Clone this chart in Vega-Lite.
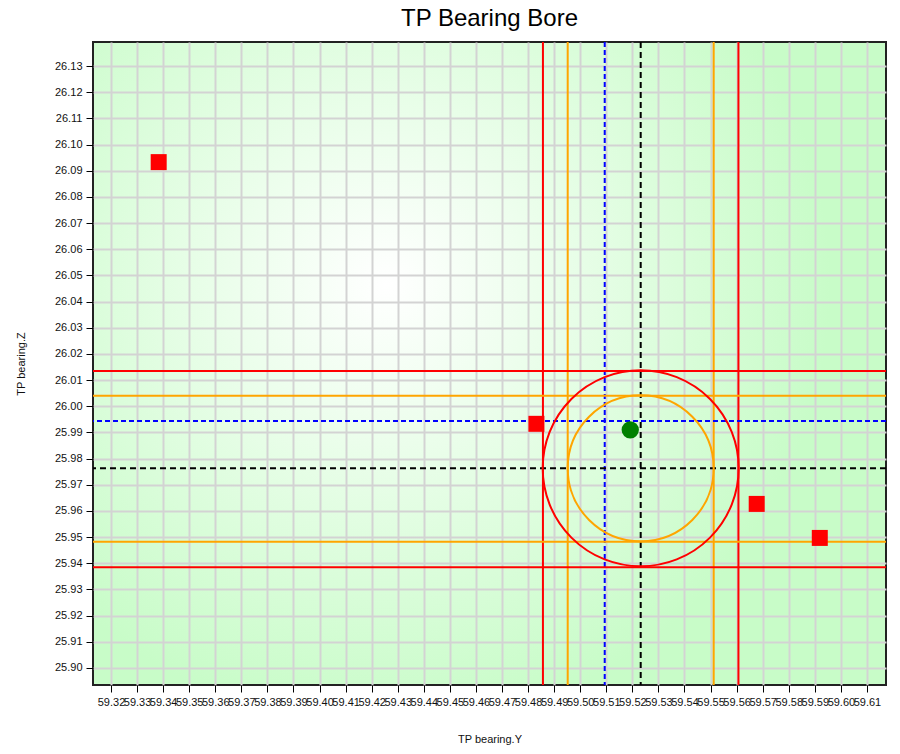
{
  "$schema": "https://vega.github.io/schema/vega-lite/v6.json",
  "width": 793,
  "height": 643,
  "autosize": {"type": "none"},
  "padding": {"left": 93, "top": 42, "right": 14, "bottom": 69},
  "background": "white",
  "title": {"text": "TP Bearing Bore", "fontSize": 24, "font": "Liberation Sans", "fontWeight": "normal", "color": "#000", "offset": 10, "anchor": "middle", "frame": "group"},
  "datasets": {
    "vlines": [
      {"Y": 59.4857, "kind": "outer"},
      {"Y": 59.5607, "kind": "outer"},
      {"Y": 59.4952, "kind": "inner"},
      {"Y": 59.5512, "kind": "inner"},
      {"Y": 59.5094, "kind": "mean"},
      {"Y": 59.5232, "kind": "nominal"}
    ],
    "hlines": [
      {"Z": 26.0135, "kind": "outer"},
      {"Z": 25.9385, "kind": "outer"},
      {"Z": 26.0040, "kind": "inner"},
      {"Z": 25.9482, "kind": "inner"},
      {"Z": 25.9944, "kind": "mean"},
      {"Z": 25.9763, "kind": "nominal"}
    ],
    "nominal": [{"Y": 59.5232, "Z": 25.9763}],
    "mean": [{"Y": 59.5192, "Z": 25.9910}],
    "measured": [
      {"Y": 59.3383, "Z": 26.0933},
      {"Y": 59.4832, "Z": 25.9933},
      {"Y": 59.5677, "Z": 25.9627},
      {"Y": 59.5919, "Z": 25.9497}
    ]
  },
  "encoding": {
    "x": {
      "field": "Y", "type": "quantitative", "title": "TP bearing.Y",
      "scale": {"domain": [59.3131, 59.6173], "nice": false, "zero": false},
      "axis": {"values": [59.32,59.33,59.34,59.35,59.36,59.37,59.38,59.39,59.40,59.41,59.42,59.43,59.44,59.45,59.46,59.47,59.48,59.49,59.50,59.51,59.52,59.53,59.54,59.55,59.56,59.57,59.58,59.59,59.60,59.61], "format": ".2f", "titlePadding": 26}
    },
    "y": {
      "field": "Z", "type": "quantitative", "title": "TP bearing.Z",
      "scale": {"domain": [25.8935, 26.1392], "nice": false, "zero": false},
      "axis": {"values": [25.90,25.91,25.92,25.93,25.94,25.95,25.96,25.97,25.98,25.99,26.00,26.01,26.02,26.03,26.04,26.05,26.06,26.07,26.08,26.09,26.10,26.11,26.12,26.13], "format": ".2f", "titlePadding": 28}
    }
  },
  "layer": [
    {
      "data": {"name": "vlines"},
      "mark": {"type": "rule"},
      "encoding": {
        "y": null,
        "color": {"field": "kind", "type": "nominal", "scale": {"domain": ["outer", "inner", "mean", "nominal"], "range": ["#ff0000", "#ffa500", "#0000ff", "#000000"]}, "legend": null},
        "strokeWidth": {"field": "kind", "type": "nominal", "scale": {"domain": ["outer", "inner", "mean", "nominal"], "range": [2, 2, 1, 2.5]}, "legend": null},
        "strokeDash": {"field": "kind", "type": "nominal", "scale": {"domain": ["outer", "inner", "mean", "nominal"], "range": [[1, 0], [1, 0], [5, 3], [6, 4]]}, "legend": null}
      }
    },
    {
      "data": {"name": "hlines"},
      "mark": {"type": "rule"},
      "encoding": {
        "x": null,
        "color": {"field": "kind", "type": "nominal", "scale": {"domain": ["outer", "inner", "mean", "nominal"], "range": ["#ff0000", "#ffa500", "#0000ff", "#000000"]}, "legend": null},
        "strokeWidth": {"field": "kind", "type": "nominal", "scale": {"domain": ["outer", "inner", "mean", "nominal"], "range": [2, 2, 1, 2.5]}, "legend": null},
        "strokeDash": {"field": "kind", "type": "nominal", "scale": {"domain": ["outer", "inner", "mean", "nominal"], "range": [[1, 0], [1, 0], [5, 3], [6, 4]]}, "legend": null}
      }
    },
    {
      "data": {"name": "nominal"},
      "mark": {"type": "point", "shape": "circle", "filled": false, "stroke": "#ff0000", "strokeWidth": 2, "opacity": 1, "size": 38416}
    },
    {
      "data": {"name": "nominal"},
      "mark": {"type": "point", "shape": "circle", "filled": false, "stroke": "#ffa500", "strokeWidth": 2, "opacity": 1, "size": 21316}
    },
    {
      "data": {"name": "mean"},
      "mark": {"type": "point", "shape": "circle", "filled": true, "color": "#008000", "opacity": 1, "size": 300}
    },
    {
      "data": {"name": "measured"},
      "mark": {"type": "point", "shape": "square", "filled": true, "color": "#ff0000", "opacity": 1, "size": 256}
    }
  ],
  "config": {
    "font": "Liberation Sans",
    "view": {
      "stroke": "#222222",
      "strokeWidth": 2,
      "fill": {"gradient": "radial", "x1": 0.37, "y1": 0.4, "r1": 0, "x2": 0.37, "y2": 0.4, "r2": 0.56, "stops": [{"offset": 0, "color": "#ffffff"}, {"offset": 1, "color": "#c8fcc8"}]}
    },
    "axis": {
      "domain": false,
      "grid": true,
      "gridColor": "#d3d3d3",
      "gridWidth": 2,
      "gridOpacity": 1,
      "tickColor": "#000000",
      "tickSize": 7,
      "tickWidth": 1,
      "labelFont": "Liberation Sans",
      "labelFontSize": 11,
      "labelColor": "#111111",
      "labelPadding": 4,
      "labelOverlap": false,
      "labelFlush": false,
      "labelBound": false,
      "titleFont": "Liberation Sans",
      "titleFontSize": 11,
      "titleFontWeight": "normal",
      "titleColor": "#111111"
    }
  }
}
